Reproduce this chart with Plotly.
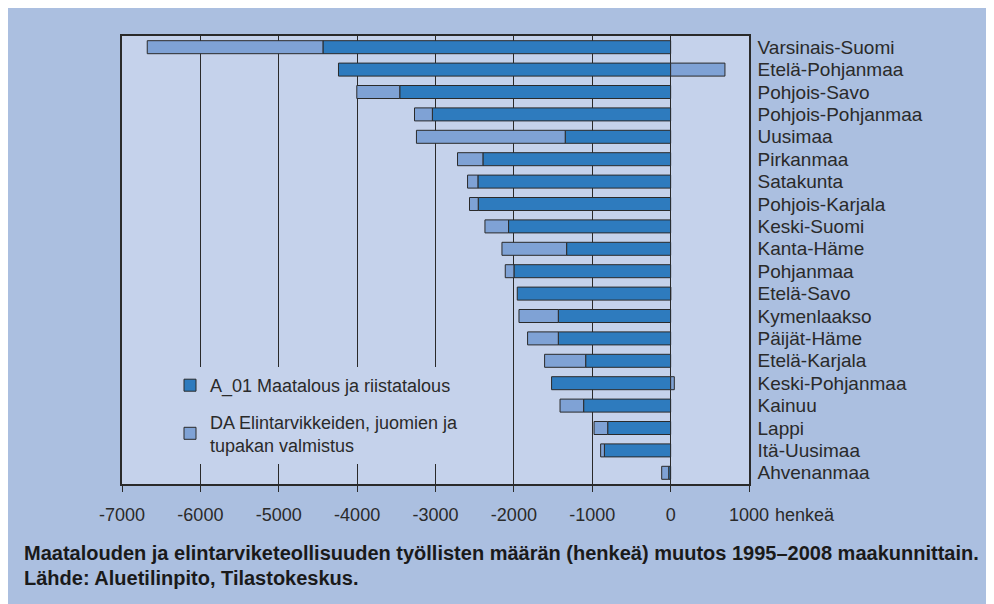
import plotly.graph_objects as go

# maakunnat, ylhäältä alas
regions = ['Varsinais-Suomi', 'Etelä-Pohjanmaa', 'Pohjois-Savo', 'Pohjois-Pohjanmaa', 'Uusimaa',
           'Pirkanmaa', 'Satakunta', 'Pohjois-Karjala', 'Keski-Suomi', 'Kanta-Häme',
           'Pohjanmaa', 'Etelä-Savo', 'Kymenlaakso', 'Päijät-Häme', 'Etelä-Karjala',
           'Keski-Pohjanmaa', 'Kainuu', 'Lappi', 'Itä-Uusimaa', 'Ahvenanmaa']

# muutos 1995-2008, henkeä (luettu kuvasta)
a01 = [-4436, -4238, -3456, -3040, -1345, -2395, -2459, -2455, -2068, -1327,
       -1999, -1957, -1433, -1433, -1084, -1519, -1110, -803, -845, -24]
da = [-2242, 693, -548, -228, -1898, -324, -132, -111, -301, -825,
      -111, 0, -502, -392, -524, 47, -301, -174, -48, -90]

xticks = [-7000, -6000, -5000, -4000, -3000, -2000, -1000, 0, 1000]
xticktext = ['-7000', '-6000', '-5000', '-4000', '-3000', '-2000', '-1000', '0', '1000']

caption1 = 'Maatalouden ja elintarviketeollisuuden työllisten määrän (henkeä) muutos 1995–2008 maakunnittain.'
caption2 = 'Lähde: Aluetilinpito, Tilastokeskus.'

FONT = 'Liberation Sans, Arial, sans-serif'
DARK = '#2E7BBE'
LIGHT = '#7FA2D5'
PLOTBG = '#C5D2EB'
OUTER = '#ABBFE0'
INK = '#2a2a2a'

fig = go.Figure()
fig.add_trace(go.Bar(y=regions, x=a01, orientation='h', name='A_01 Maatalous ja riistatalous',
                     marker=dict(color=DARK, line=dict(color=INK, width=1)), legendgroup='a'))
fig.add_trace(go.Bar(y=regions, x=da, orientation='h',
                     name='DA Elintarvikkeiden, juomien ja<br>tupakan valmistus',
                     marker=dict(color=LIGHT, line=dict(color=INK, width=1)), legendgroup='b'))

fig.add_annotation(x=1000, xref='x', y=0, yref='paper', yshift=-31, xshift=24,
                   text='henkeä', showarrow=False, xanchor='left', yanchor='middle',
                   font=dict(family=FONT, size=18, color=INK))
fig.add_annotation(x=(14 - 114) / 627, xref='paper', y=(476 - 545) / 448, yref='paper',
                   text='<b>' + caption1 + '</b>', showarrow=False, xanchor='left', yanchor='middle',
                   font=dict(family=FONT, size=20, color='#1a1a1a'))
fig.add_annotation(x=(14 - 114) / 627, xref='paper', y=(476 - 570) / 448, yref='paper',
                   text='<b>' + caption2 + '</b>', showarrow=False, xanchor='left', yanchor='middle',
                   font=dict(family=FONT, size=20, color='#1a1a1a'))

fig.update_layout(
    width=994, height=604,
    margin=dict(l=114, r=253, t=28, b=128),
    paper_bgcolor=OUTER, plot_bgcolor=PLOTBG,
    barmode='relative', bargap=0.42,
    font=dict(family=FONT, size=18, color=INK),
    legend=dict(x=(162 - 114) / 627, y=(476 - 359) / 448, xanchor='left', yanchor='top',
                bgcolor=PLOTBG, traceorder='grouped', tracegroupgap=10,
                font=dict(family=FONT, size=18, color=INK)),
    xaxis=dict(range=[-7000, 1000], tickvals=xticks, ticktext=xticktext,
               showgrid=True, gridcolor=INK, gridwidth=1, zeroline=False,
               showline=True, mirror=True, linecolor=INK, linewidth=1.5,
               ticks='outside', ticklen=6, tickcolor=INK, ticklabelstandoff=8,
               tickfont=dict(family=FONT, size=18, color=INK)),
    yaxis=dict(categoryorder='array', categoryarray=regions, autorange='reversed',
               tickmode='linear', dtick=1,
               side='right', showline=True, mirror=True, linecolor=INK, linewidth=1.5,
               showgrid=False, ticks='', ticklabelstandoff=3,
               tickfont=dict(family=FONT, size=19, color=INK)),
    yaxis2=dict(overlaying='y', anchor='free', position=(670 - 122) / 627, side='left',
                range=[19.5, -0.5], tickvals=[i + 0.5 for i in range(19)],
                ticks='outside', ticklen=5, tickcolor=INK, showticklabels=False,
                showgrid=False, zeroline=False, showline=True, linecolor=INK, linewidth=2),
)

fig.write_html('out.html')
